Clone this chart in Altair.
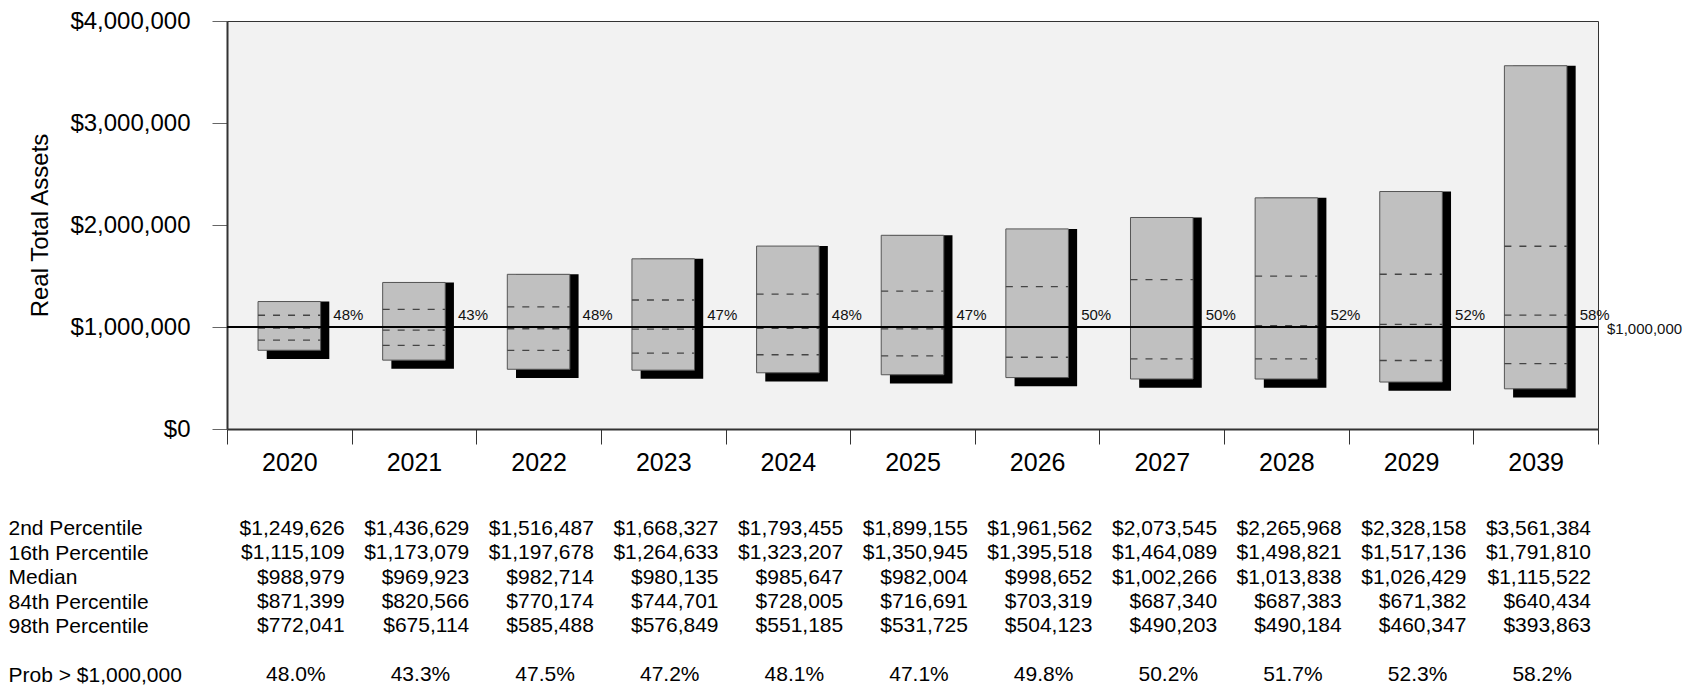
import altair as alt
import pandas as pd

# Projected real total assets by year: percentile bands and probability of exceeding the target
years = ["2020", "2021", "2022", "2023", "2024", "2025", "2026", "2027", "2028", "2029", "2039"]
p2 = [1249626, 1436629, 1516487, 1668327, 1793455, 1899155, 1961562, 2073545, 2265968, 2328158, 3561384]
p16 = [1115109, 1173079, 1197678, 1264633, 1323207, 1350945, 1395518, 1464089, 1498821, 1517136, 1791810]
median = [988979, 969923, 982714, 980135, 985647, 982004, 998652, 1002266, 1013838, 1026429, 1115522]
p84 = [871399, 820566, 770174, 744701, 728005, 716691, 703319, 687340, 687383, 671382, 640434]
p98 = [772041, 675114, 585488, 576849, 551185, 531725, 504123, 490203, 490184, 460347, 393863]
prob = [48.0, 43.3, 47.5, 47.2, 48.1, 47.1, 49.8, 50.2, 51.7, 52.3, 58.2]
target = 1000000

row_names = ["2nd Percentile", "16th Percentile", "Median", "84th Percentile",
             "98th Percentile", " ", "Prob > $1,000,000"]

W, H = 1371, 408
BAND = W / len(years)
FONT = "Liberation Sans"
TFS = 21  # table font size

df = pd.DataFrame({
    "year": years, "p2": p2, "p16": p16, "med": median, "p84": p84, "p98": p98,
    "prob": prob,
})
df["pct"] = [f"{p:.0f}%" for p in prob]

x_scale = alt.Scale(domain=years, paddingInner=0, paddingOuter=0)
y_scale = alt.Scale(domain=[0, 4000000], nice=False)

x_main = alt.X(
    "year:N", scale=x_scale, sort=years, title=None,
    axis=alt.Axis(labelFontSize=25, labelColor="#000", labelPadding=6, labelAngle=0,
                  tickSize=15, tickColor="#333", tickBand="extent",
                  domainColor="#333", domainWidth=2, labelFont=FONT),
)
y_main = alt.Y(
    "p98:Q", scale=y_scale, title="Real Total Assets",
    axis=alt.Axis(values=[0, 1000000, 2000000, 3000000, 4000000], format="$,.0f",
                  labelFontSize=24, labelColor="#000", labelPadding=22,
                  tickSize=15, tickColor="#666", domainColor="#333", domainWidth=2,
                  grid=False, titleFontSize=24, titleFontWeight="normal",
                  titleColor="#000", titlePadding=17, labelFont=FONT, titleFont=FONT),
)

base = alt.Chart(df)

# drop shadow behind each percentile box
shadow = base.mark_bar(
    color="#000", width=alt.RelativeBandSize(0.502), xOffset=8.7, yOffset=8.7
).encode(x=x_main, y=y_main, y2="p2:Q")

bars = base.mark_bar(
    color="#c0c0c0", stroke="#555", strokeWidth=1, width=alt.RelativeBandSize(0.502)
).encode(x=x_main, y=y_main, y2="p2:Q")

dashes = base.transform_fold(["p16", "med", "p84"], as_=["stat", "value"]).mark_rule(
    color="#444", strokeWidth=1.3, strokeDash=[7, 8]
).encode(
    x=alt.X("year:N", scale=x_scale, sort=years, bandPosition=0.249),
    x2=alt.X2("year", bandPosition=0.751),
    y=alt.Y("value:Q", scale=y_scale),
)

target_line = alt.Chart(df).mark_rule(color="#000", strokeWidth=1).encode(
    y=alt.datum(target, scale=y_scale)
)

pct_labels = base.mark_text(
    align="left", baseline="middle", dx=44, dy=-12, fontSize=15, font=FONT, color="#111"
).encode(
    x=alt.X("year:N", scale=x_scale, sort=years, bandPosition=0.5),
    y=alt.datum(target, scale=y_scale),
    text="pct:N",
)

target_label = alt.Chart(pd.DataFrame({"t": ["$1,000,000"]})).mark_text(
    align="left", baseline="middle", dx=9, dy=2, fontSize=15, font=FONT, color="#111"
).encode(
    x=alt.value(W),
    y=alt.datum(target, scale=y_scale),
    text="t:N",
)

main = alt.layer(shadow, bars, dashes, target_line, pct_labels, target_label).properties(
    width=W, height=H,
    view=alt.ViewBackground(fill="#f2f2f2", stroke="#333", strokeWidth=1),
)

# Summary table under the chart, one column per year
rows = []
for i, yr in enumerate(years):
    for name, arr in zip(row_names[:5], [p2, p16, median, p84, p98]):
        rows.append({"year": yr, "row": name, "txt": f"${arr[i]:,.0f}", "kind": "val"})
    rows.append({"year": yr, "row": row_names[6], "txt": f"{prob[i]:.1f}%", "kind": "prob"})
tdf = pd.DataFrame(rows)

x_tab = alt.X("year:N", scale=x_scale, sort=years, axis=None)
y_tab = alt.Y(
    "row:N", title="",
    scale=alt.Scale(type="point", domain=row_names, padding=0.3),
    axis=alt.Axis(labelAlign="left", labelPadding=219, ticks=False, tickSize=0,
                  domain=False, grid=False, labelFontSize=TFS, labelColor="#000",
                  labelFont=FONT, labelBaseline="middle"),
)

tab_vals = alt.Chart(tdf).transform_filter(alt.datum.kind == "val").mark_text(
    align="right", baseline="middle", dx=BAND / 2 - 7, fontSize=TFS, font=FONT, color="#000"
).encode(x=x_tab, y=y_tab, text="txt:N")

tab_prob = alt.Chart(tdf).transform_filter(alt.datum.kind == "prob").mark_text(
    align="center", baseline="middle", dx=6.5, fontSize=TFS, font=FONT, color="#000"
).encode(x=x_tab, y=y_tab, text="txt:N")

table = alt.layer(tab_vals, tab_prob).properties(
    width=W, height=161, view=alt.ViewBackground(strokeWidth=0)
)

chart = alt.vconcat(main, table, spacing=41.5).properties(
    padding={"left": 8, "top": 8, "right": 0, "bottom": 0},
    background="#ffffff",
).configure(font=FONT)

chart.save("out.html", embed_options={"renderer": "svg", "actions": False})
